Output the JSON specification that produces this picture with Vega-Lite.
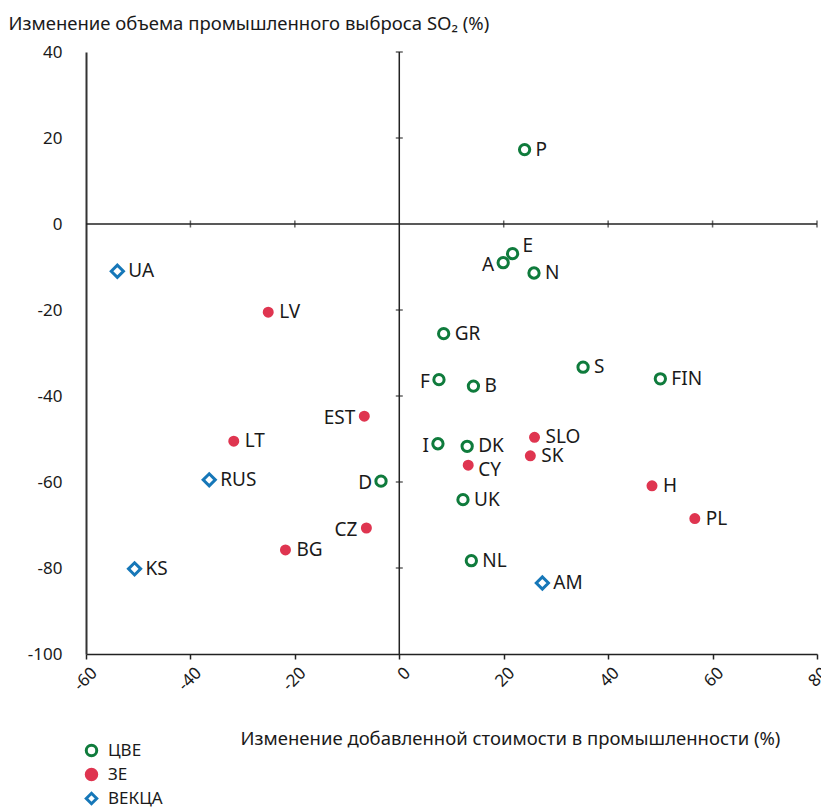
{
  "$schema": "https://vega.github.io/schema/vega-lite/v6.json",
  "width": 731,
  "height": 602,
  "autosize": {"type": "none"},
  "padding": {"left": 86, "top": 52, "right": 4, "bottom": 153},
  "config": {"view": {"stroke": null}, "font": "Noto Sans"},
  "datasets": {
    "pts": [
      {"n": "P", "g": "ЦВЕ", "x": 24.0, "y": 17.3},
      {"n": "E", "g": "ЦВЕ", "x": 21.7, "y": -6.9},
      {"n": "A", "g": "ЦВЕ", "x": 19.9, "y": -9.0},
      {"n": "N", "g": "ЦВЕ", "x": 25.8, "y": -11.4},
      {"n": "GR", "g": "ЦВЕ", "x": 8.5, "y": -25.5},
      {"n": "F", "g": "ЦВЕ", "x": 7.6, "y": -36.2},
      {"n": "B", "g": "ЦВЕ", "x": 14.2, "y": -37.7},
      {"n": "S", "g": "ЦВЕ", "x": 35.2, "y": -33.3},
      {"n": "FIN", "g": "ЦВЕ", "x": 50.0, "y": -36.0},
      {"n": "I", "g": "ЦВЕ", "x": 7.4, "y": -51.1},
      {"n": "DK", "g": "ЦВЕ", "x": 13.0, "y": -51.7},
      {"n": "UK", "g": "ЦВЕ", "x": 12.2, "y": -64.1},
      {"n": "NL", "g": "ЦВЕ", "x": 13.8, "y": -78.3},
      {"n": "D", "g": "ЦВЕ", "x": -3.5, "y": -59.8},
      {"n": "SLO", "g": "ЗЕ", "x": 25.9, "y": -49.6},
      {"n": "SK", "g": "ЗЕ", "x": 25.1, "y": -53.9},
      {"n": "CY", "g": "ЗЕ", "x": 13.2, "y": -56.1},
      {"n": "H", "g": "ЗЕ", "x": 48.4, "y": -60.9},
      {"n": "PL", "g": "ЗЕ", "x": 56.6, "y": -68.5},
      {"n": "EST", "g": "ЗЕ", "x": -6.7, "y": -44.7},
      {"n": "LT", "g": "ЗЕ", "x": -31.7, "y": -50.5},
      {"n": "LV", "g": "ЗЕ", "x": -25.1, "y": -20.5},
      {"n": "CZ", "g": "ЗЕ", "x": -6.3, "y": -70.7},
      {"n": "BG", "g": "ЗЕ", "x": -21.8, "y": -75.8},
      {"n": "UA", "g": "ВЕКЦА", "x": -54.0, "y": -11.0},
      {"n": "RUS", "g": "ВЕКЦА", "x": -36.4, "y": -59.5},
      {"n": "KS", "g": "ВЕКЦА", "x": -50.7, "y": -80.2},
      {"n": "AM", "g": "ВЕКЦА", "x": 27.4, "y": -83.5}
    ],
    "zero": [{"v": 0}],
    "xt": [{"v": -40}, {"v": -20}, {"v": 20}, {"v": 40}, {"v": 60}, {"v": 80}],
    "yt": [{"v": 40}, {"v": 20}, {"v": -20}, {"v": -40}, {"v": -60}, {"v": -80}]
  },
  "layer": [
    {
      "data": {"name": "pts"},
      "mark": {"type": "point", "strokeWidth": 3, "opacity": 1, "filled": false},
      "encoding": {
        "x": {
          "field": "x", "type": "quantitative",
          "scale": {"domain": [-60, 80], "nice": false, "zero": false},
          "axis": {
            "title": "Изменение добавленной стоимости в промышленности (%)",
            "values": [-60, -40, -20, 0, 20, 40, 60, 80],
            "labelExpr": "'' + datum.value",
            "grid": false,
            "labelAngle": -45, "labelAlign": "right", "labelBaseline": "middle",
            "labelFontSize": 17, "labelColor": "#1a1a1a", "labelPadding": 11, "labelOffset": 8,
            "tickSize": 5, "tickWidth": 1.5, "tickColor": "#222222",
            "domainColor": "#222222", "domainWidth": 1.5,
            "titleFontSize": 18.5, "titleFontWeight": "normal", "titleColor": "#1a1a1a",
            "titleX": 424, "titleY": 90, "titleAlign": "center", "titleBaseline": "alphabetic"
          }
        },
        "y": {
          "field": "y", "type": "quantitative",
          "scale": {"domain": [-100, 40], "nice": false, "zero": false},
          "axis": {
            "title": "Изменение объема промышленного выброса SO₂ (%)",
            "values": [40, 20, 0, -20, -40, -60, -80, -100],
            "labelExpr": "'' + datum.value",
            "grid": false, "ticks": false,
            "labelFontSize": 17, "labelColor": "#1a1a1a", "labelPadding": 24,
            "domainColor": "#333333", "domainWidth": 2,
            "titleFontSize": 18.5, "titleFontWeight": "normal", "titleColor": "#1a1a1a",
            "titleAngle": 0, "titleX": -78, "titleY": -23, "titleAlign": "left", "titleBaseline": "alphabetic"
          }
        },
        "shape": {
          "field": "g", "type": "nominal",
          "scale": {"domain": ["ЦВЕ", "ЗЕ", "ВЕКЦА"], "range": ["circle", "circle", "diamond"]},
          "legend": {
            "orient": "none", "legendX": -3, "legendY": 690, "title": null,
            "labelFontSize": 17, "labelColor": "#1a1a1a", "rowPadding": 1, "labelOffset": 8,
            "symbolStrokeWidth": 3, "symbolSize": 110, "padding": 0
          }
        },
        "stroke": {
          "field": "g", "type": "nominal",
          "scale": {"domain": ["ЦВЕ", "ЗЕ", "ВЕКЦА"], "range": ["#0f7b3c", "#df3550", "#1677b8"]}
        },
        "fill": {
          "field": "g", "type": "nominal",
          "scale": {"domain": ["ЦВЕ", "ЗЕ", "ВЕКЦА"], "range": ["#ffffff", "#df3550", "#ffffff"]}
        },
        "size": {
          "field": "g", "type": "nominal",
          "scale": {"type": "point", "domain": ["ЗЕ", "ЦВЕ", "ВЕКЦА"], "range": [64, 148], "padding": 0},
          "legend": null
        }
      }
    },
    {
      "data": {"name": "zero"},
      "mark": {"type": "rule", "color": "#222222", "strokeWidth": 1.5},
      "encoding": {"y": {"field": "v", "type": "quantitative"}}
    },
    {
      "data": {"name": "zero"},
      "mark": {"type": "rule", "color": "#222222", "strokeWidth": 1.5},
      "encoding": {"x": {"field": "v", "type": "quantitative"}}
    },
    {
      "data": {"name": "xt"},
      "mark": {"type": "tick", "orient": "vertical", "color": "#222222", "size": 7, "thickness": 1.5},
      "encoding": {
        "x": {"field": "v", "type": "quantitative"},
        "y": {"datum": 0, "type": "quantitative"}
      }
    },
    {
      "data": {"name": "yt"},
      "mark": {"type": "tick", "orient": "horizontal", "color": "#222222", "size": 7, "thickness": 1.5},
      "encoding": {
        "y": {"field": "v", "type": "quantitative"},
        "x": {"datum": 0, "type": "quantitative"}
      }
    },
    {
      "data": {"name": "pts"},
      "transform": [{"filter": {"not": {"field": "n", "oneOf": ["A", "F", "I", "D", "CZ", "EST", "E", "CY"]}}}],
      "mark": {"type": "text", "align": "left", "baseline": "middle", "dx": 11, "fontSize": 19, "color": "#1a1a1a"},
      "encoding": {
        "x": {"field": "x", "type": "quantitative"},
        "y": {"field": "y", "type": "quantitative"},
        "text": {"field": "n", "type": "nominal"}
      }
    },
    {
      "data": {"name": "pts"},
      "transform": [{"filter": {"field": "n", "oneOf": ["A", "F", "I", "D", "CZ", "EST"]}}],
      "mark": {"type": "text", "align": "right", "baseline": "middle", "dx": -9, "dy": 2, "fontSize": 19, "color": "#1a1a1a"},
      "encoding": {
        "x": {"field": "x", "type": "quantitative"},
        "y": {"field": "y", "type": "quantitative"},
        "text": {"field": "n", "type": "nominal"}
      }
    },
    {
      "data": {"name": "pts"},
      "transform": [{"filter": {"field": "n", "equal": "E"}}],
      "mark": {"type": "text", "align": "left", "baseline": "middle", "dx": 10, "dy": -8, "fontSize": 19, "color": "#1a1a1a"},
      "encoding": {
        "x": {"field": "x", "type": "quantitative"},
        "y": {"field": "y", "type": "quantitative"},
        "text": {"field": "n", "type": "nominal"}
      }
    },
    {
      "data": {"name": "pts"},
      "transform": [{"filter": {"field": "n", "equal": "CY"}}],
      "mark": {"type": "text", "align": "left", "baseline": "middle", "dx": 10, "dy": 5, "fontSize": 19, "color": "#1a1a1a"},
      "encoding": {
        "x": {"field": "x", "type": "quantitative"},
        "y": {"field": "y", "type": "quantitative"},
        "text": {"field": "n", "type": "nominal"}
      }
    }
  ]
}
